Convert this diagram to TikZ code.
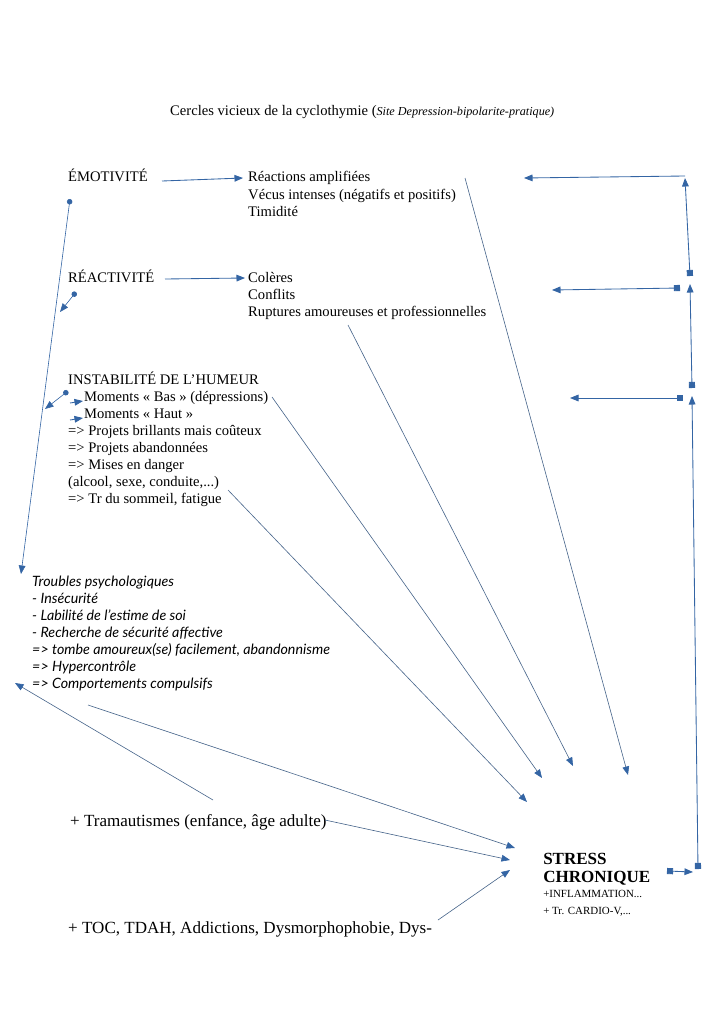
\documentclass[tikz,border=0pt]{standalone}
\usepackage{fontspec}
\setmainfont{Liberation Serif}
\newfontfamily\tpfont{Lato}
\usetikzlibrary{arrows.meta}
\definecolor{conn}{HTML}{3465A4}
\definecolor{diagc}{HTML}{46648A}
\newcommand\myblk[1]{\begin{tabular}[t]{@{}l@{}}#1\end{tabular}}
\begin{document}
\begin{tikzpicture}[x=0.8218pt,y=-0.8218pt,
  lbl/.style={anchor=base west, inner sep=0pt, font=\fontsize{12}{14}\selectfont},
  big/.style={anchor=base west, inner sep=0pt, font=\fontsize{14}{17}\selectfont},
  tip/.style={-{Triangle[length=7pt,width=5.5pt,color=conn]}},
  conline/.style={draw=conn, line width=0.7pt, tip},
  diagline/.style={draw=diagc, line width=0.5pt, tip},
  dotline/.style={draw=conn, line width=0.5pt, {Circle[length=4.5pt,color=conn]}-{Triangle[length=7pt,width=5.5pt,color=conn]}},
  sqline/.style={draw=conn, line width=0.7pt, {Square[length=5pt,color=conn]}-{Triangle[length=7pt,width=5.5pt,color=conn]}}
]
\useasboundingbox (0,0) rectangle (724,1024);

% texts
\node[anchor=base west, inner sep=0pt] (title) at (170,116)
  {\fontsize{12}{14}\selectfont Cercles vicieux de la cyclothymie (\fontsize{10}{12}\selectfont\itshape Site Depression-bipolarite-pratique)};
\node[lbl] (emo) at (68,182) {ÉMOTIVITÉ};
\node[lbl] (emolist) at (248,182) {\myblk{Réactions amplifiées\\Vécus intenses (négatifs et positifs)\\Timidité}};
\node[lbl] (reac) at (68,282) {RÉACTIVITÉ};
\node[lbl] (reaclist) at (248,282) {\myblk{Colères\\Conflits\\Ruptures amoureuses et professionnelles}};
\node[lbl] (instab) at (68,384) {\myblk{INSTABILITÉ DE L’HUMEUR\\
  \hspace*{13pt}Moments «~Bas~» (dépressions)\\
  \hspace*{13pt}Moments «~Haut~»\\
  => Projets brillants mais coûteux\\
  => Projets abandonnées\\
  => Mises en danger\\
  (alcool, sexe, conduite,...)\\
  => Tr du sommeil, fatigue}};
\node[anchor=base west, inner sep=0pt, font=\tpfont\itshape\fontsize{11.7}{14}\selectfont] (troubles) at (32,586)
  {\myblk{Troubles psychologiques\\
  - Insécurité\\
  - Labilité de l’estime de soi\\
  - Recherche de sécurité affective\\
  => tombe amoureux(se) facilement, abandonnisme\\
  => Hypercontrôle\\
  => Comportements compulsifs}};
\node[big] (trauma) at (70,826) {+ Tramautismes (enfance, âge adulte)};
\node[big] (toc) at (68,933) {+ TOC, TDAH, Addictions, Dysmorphophobie, Dys-};
\node[anchor=base west, inner sep=0pt, font=\bfseries\fontsize{14}{14.8}\selectfont] (stress) at (543,864) {\myblk{STRESS\\CHRONIQUE}};
\node[anchor=base west, inner sep=0pt, font=\fontsize{9}{14}\selectfont] (stresssub) at (543,897) {\myblk{+INFLAMMATION...\\+ Tr. CARDIO-V,...}};

% coordinates
\coordinate (e1) at (162,181); \coordinate (e2) at (243,178);
\coordinate (r1) at (165,279); \coordinate (r2) at (245,278);
\coordinate (ed) at (70,199);  \coordinate (et) at (21,574);
\coordinate (rd) at (76,292);  \coordinate (rt) at (60,312);
\coordinate (id) at (68,391);  \coordinate (it) at (45,409);
\coordinate (m1a) at (70,403); \coordinate (m1b) at (83,401);
\coordinate (m2a) at (70,420); \coordinate (m2b) at (83,418);
\coordinate (d1a) at (465,178); \coordinate (d1b) at (628,775);
\coordinate (d2a) at (348,325); \coordinate (d2b) at (573,766);
\coordinate (d3a) at (272,397); \coordinate (d3b) at (542,778);
\coordinate (d4a) at (228,490); \coordinate (d4b) at (527,802);
\coordinate (d5a) at (88,705);  \coordinate (d5b) at (515,848);
\coordinate (d6a) at (325,820); \coordinate (d6b) at (510,860);
\coordinate (d7a) at (438,920); \coordinate (d7b) at (510,870);
\coordinate (d8a) at (213,800); \coordinate (d8b) at (15,683);
\coordinate (s1) at (667,871); \coordinate (s2) at (693,872);
\coordinate (v1a) at (698,869); \coordinate (v1b) at (692,396);
\coordinate (v2a) at (692,388); \coordinate (v2b) at (690,284);
\coordinate (v3a) at (690,276); \coordinate (v3b) at (685,178);
\coordinate (h1a) at (685,176); \coordinate (h1b) at (524,178);
\coordinate (h2a) at (680,288); \coordinate (h2b) at (552,290);
\coordinate (h3a) at (683,398); \coordinate (h3b) at (570,398);

% connectors
\draw[conline] (e1) -- (e2);
\draw[conline] (r1) -- (r2);
\draw[dotline] (ed) -- (et);
\draw[dotline] (rd) -- (rt);
\draw[dotline] (id) -- (it);
\draw[conline] (m1a) -- (m1b);
\draw[conline] (m2a) -- (m2b);
\draw[diagline] (d1a) -- (d1b);
\draw[diagline] (d2a) -- (d2b);
\draw[diagline] (d3a) -- (d3b);
\draw[diagline] (d4a) -- (d4b);
\draw[diagline] (d5a) -- (d5b);
\draw[diagline] (d6a) -- (d6b);
\draw[diagline] (d7a) -- (d7b);
\draw[diagline] (d8a) -- (d8b);
\draw[sqline] (s1) -- (s2);
\draw[sqline] (v1a) -- (v1b);
\draw[sqline] (v2a) -- (v2b);
\draw[sqline] (v3a) -- (v3b);
\draw[conline] (h1a) -- (h1b);
\draw[sqline] (h2a) -- (h2b);
\draw[sqline] (h3a) -- (h3b);
\end{tikzpicture}
\end{document}
